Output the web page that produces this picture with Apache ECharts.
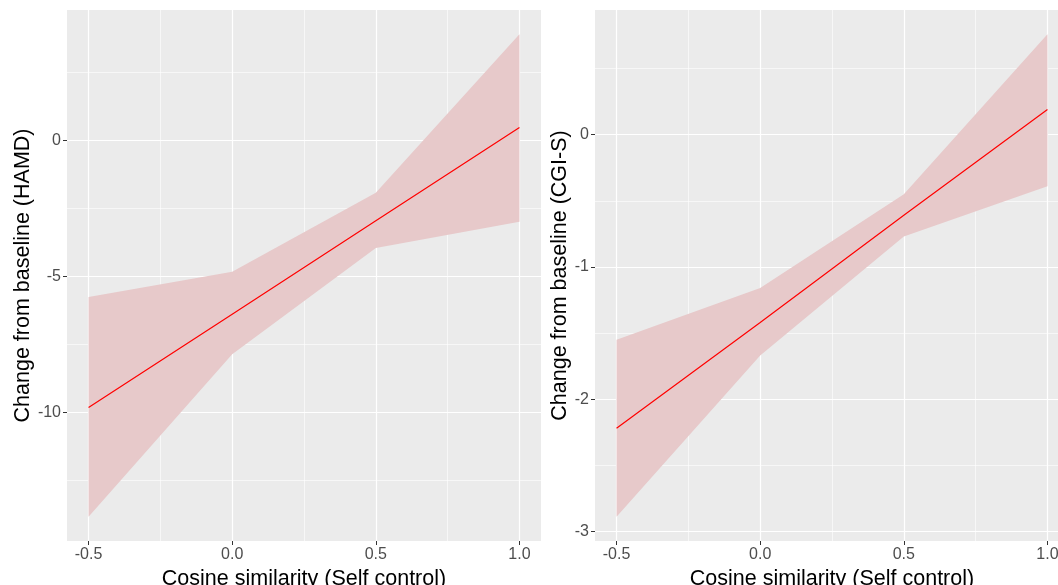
<!DOCTYPE html>
<html>
<head>
<meta charset="utf-8">
<script src="https://cdn.jsdelivr.net/npm/echarts@6/dist/echarts.min.js"></script>
<style>
  html, body { margin: 0; padding: 0; background: #fff; }
  #chart { width: 1058px; height: 585px; }
</style>
</head>
<body>
<div id="chart"></div>
<script>
// x positions of the fitted values
const xValues = [-0.5, 0, 0.5, 1]
const xMajor = [-0.5, 0, 0.5, 1]
const xMinor = [-0.25, 0.25, 0.75]

// HAMD panel
const hamdFit = [-9.82, -6.39, -2.95, 0.48]
const hamdLower = [-13.84, -7.86, -3.95, -2.99]
const hamdUpper = [-5.76, -4.83, -1.92, 3.91]
const hamdMajor = [-10, -5, 0]
const hamdMinor = [-12.5, -7.5, -2.5, 2.5]

// CGI-S panel
const cgiFit = [-2.22, -1.42, -0.61, 0.19]
const cgiLower = [-2.89, -1.67, -0.77, -0.39]
const cgiUpper = [-1.55, -1.16, -0.45, 0.76]
const cgiMajor = [-3, -2, -1, 0]
const cgiMinor = [-2.5, -1.5, -0.5, 0.5]

const labelFont = 'Liberation Sans, Arial, sans-serif'

// ggplot-like 5% padding
function padded(lo, hi) {
  const d = (hi - lo) * 0.05
  return [lo - d, hi + d]
}

const xRange = padded(Math.min(...xValues), Math.max(...xValues))

function xAxes(gridIndex) {
  return [
    {
      type: 'value', gridIndex, min: xRange[0], max: xRange[1],
      name: 'Cosine similarity (Self control)',
      nameLocation: 'middle', nameGap: 21,
      nameTextStyle: { fontSize: 21.5, color: '#000', fontFamily: labelFont },
      axisLine: { show: false, onZero: false },
      axisTick: { show: true, length: 4, customValues: xMajor, lineStyle: { color: '#333' } },
      axisLabel: {
        customValues: xMajor, margin: 6, fontSize: 16, color: '#4d4d4d', fontFamily: labelFont,
        formatter: v => v.toFixed(1)
      },
      splitLine: { show: true, lineStyle: { color: '#fff', width: 1.2 } }
    },
    {
      type: 'value', gridIndex, min: xRange[0], max: xRange[1], position: 'top',
      axisLine: { show: false, onZero: false },
      axisTick: { show: false, customValues: xMinor },
      axisLabel: { show: false },
      splitLine: { show: true, lineStyle: { color: '#fff', width: 0.6 } }
    }
  ]
}

function yAxes(gridIndex, lower, upper, major, minor, title, gap) {
  const r = padded(Math.min(...lower), Math.max(...upper))
  return [
    {
      type: 'value', gridIndex, min: r[0], max: r[1],
      name: title, nameLocation: 'middle', nameGap: gap,
      nameTextStyle: { fontSize: 21.5, color: '#000', fontFamily: labelFont },
      axisLine: { show: false, onZero: false },
      axisTick: { show: true, length: 4, customValues: major, lineStyle: { color: '#333' } },
      axisLabel: {
        customValues: major, margin: 6, fontSize: 16, color: '#4d4d4d', fontFamily: labelFont,
        formatter: v => String(v)
      },
      splitLine: { show: true, lineStyle: { color: '#fff', width: 1.2 } }
    },
    {
      type: 'value', gridIndex, min: r[0], max: r[1], position: 'right',
      axisLine: { show: false, onZero: false },
      axisTick: { show: false, customValues: minor },
      axisLabel: { show: false },
      splitLine: { show: true, lineStyle: { color: '#fff', width: 0.6 } }
    }
  ]
}

// ribbon drawn as a single polygon through the axis scales
function ribbon(xAxisIndex, yAxisIndex, lower, upper) {
  return {
    type: 'custom', xAxisIndex, yAxisIndex, silent: true, z: 2,
    data: [[xValues[0], lower[0]]],
    renderItem: (params, api) => {
      const pts = []
      xValues.forEach((x, i) => pts.push(api.coord([x, upper[i]])))
      for (let i = xValues.length - 1; i >= 0; i--) pts.push(api.coord([xValues[i], lower[i]]))
      return {
        type: 'polygon',
        shape: { points: pts },
        style: { fill: '#e7c9ca' }
      }
    }
  }
}

function fitLine(xAxisIndex, yAxisIndex, fit) {
  return {
    type: 'line', xAxisIndex, yAxisIndex, z: 3,
    data: xValues.map((x, i) => [x, fit[i]]),
    showSymbol: false, silent: true,
    lineStyle: { color: '#ff0000', width: 1.2 },
    itemStyle: { color: '#ff0000' }
  }
}

const chart = echarts.init(document.getElementById('chart'), null, { renderer: 'canvas' })

const gridBase = { top: 10, width: 474, height: 531, show: true, backgroundColor: '#ebebeb', borderWidth: 0, containLabel: false, outerBoundsMode: 'none' }

chart.setOption({
  animation: false,
  grid: [
    { ...gridBase, left: 67 },
    { ...gridBase, left: 595 }
  ],
  xAxis: [...xAxes(0), ...xAxes(1)],
  yAxis: [
    ...yAxes(0, hamdLower, hamdUpper, hamdMajor, hamdMinor, 'Change from baseline (HAMD)', 33),
    ...yAxes(1, cgiLower, cgiUpper, cgiMajor, cgiMinor, 'Change from baseline (CGI-S)', 22)
  ],
  series: [
    ribbon(0, 0, hamdLower, hamdUpper),
    fitLine(0, 0, hamdFit),
    ribbon(2, 2, cgiLower, cgiUpper),
    fitLine(2, 2, cgiFit)
  ]
})
</script>
</body>
</html>
